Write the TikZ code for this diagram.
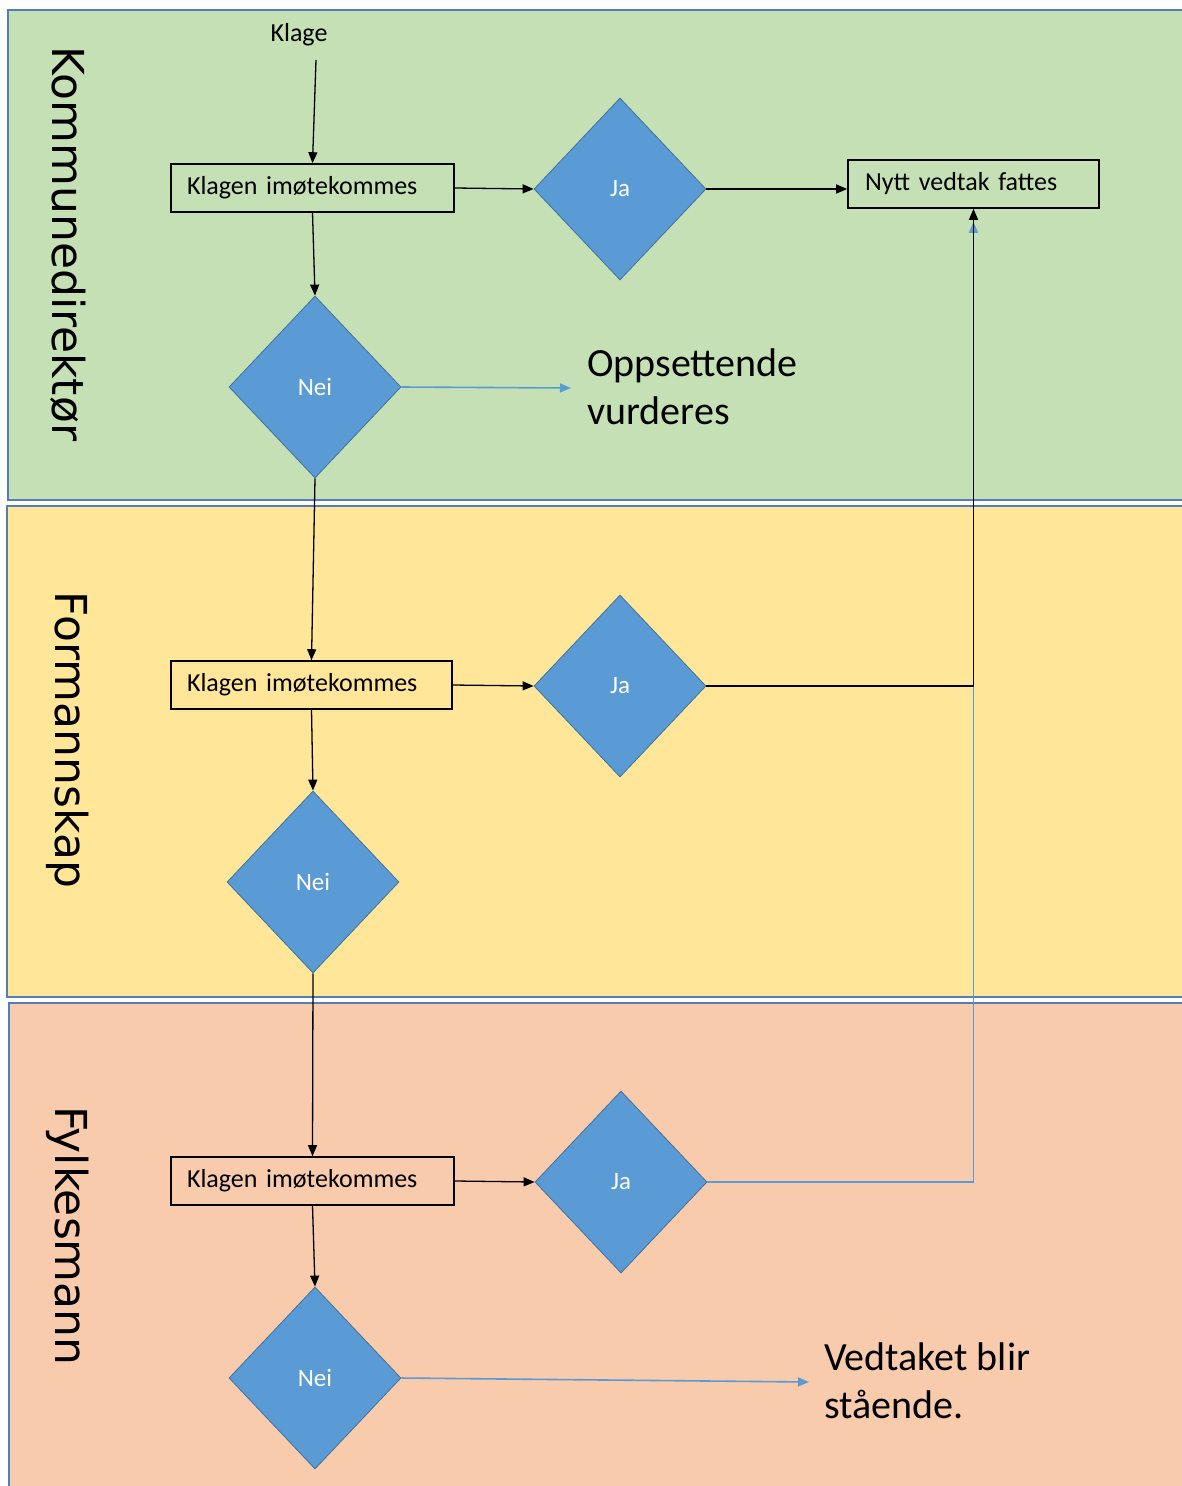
\documentclass[tikz,border=0pt]{standalone}
\usepackage{fontspec}
\setmainfont{Carlito}
\newfontfamily\lanefont{DejaVu Sans}
\usetikzlibrary{shapes.geometric,arrows.meta}
\definecolor{lanegreen}{HTML}{C5E0B4}
\definecolor{laneyellow}{HTML}{FFE699}
\definecolor{lanesalmon}{HTML}{F8CBAD}
\definecolor{laneborder}{RGB}{84,126,186}
\definecolor{decfill}{HTML}{5B9BD5}
\definecolor{decborder}{HTML}{41719C}
\definecolor{bluearrow}{HTML}{5B9BD5}
\begin{document}
\begin{tikzpicture}[x=1pt,y=-1pt,
  lane/.style={draw=laneborder, line width=1.6pt},
  lanelabel/.style={rotate=-90, font=\lanefont\fontsize{44}{50}\selectfont, inner sep=0pt},
  proc/.style={draw=black, line width=1.6pt, minimum height=48pt, inner ysep=0pt,
    font=\fontsize{26}{30}\selectfont, align=left},
  dec/.style={diamond, fill=decfill, draw=decborder, line width=0.8pt,
    minimum width=172pt, minimum height=182pt, inner sep=0pt, text=white,
    font=\fontsize{25}{30}\selectfont},
  arr/.style={draw=black, line width=1.3pt, -{Triangle[length=11pt,width=9pt]}},
  barr/.style={draw=bluearrow, line width=1.6pt, -{Triangle[length=11pt,width=9pt]}},
  bigtext/.style={font=\fontsize{40}{48}\selectfont, align=left, inner sep=0pt, anchor=west}
]
\useasboundingbox (0,0) rectangle (1182,1486);
\clip (0,0) rectangle (1182,1486);
% lanes
\fill[white] (0,0) rectangle (1182,1486);
\filldraw[lane, fill=lanegreen] (8,10) rectangle (1200,500);
\filldraw[lane, fill=laneyellow] (7,506) rectangle (1200,997);
\filldraw[lane, fill=lanesalmon] (9,1003) rectangle (1200,1500);
% lane labels
\node[lanelabel] (l1) at (68,244) {Kommunedirektør};
\node[lanelabel] (l2) at (68,740) {Formannskap};
\node[lanelabel] (l3) at (68,1236) {Fylkesmann};
% nodes
\node[font=\fontsize{26}{30}\selectfont, inner sep=0pt] (klage) at (299,35) {Klage};
\coordinate (kstart) at (316,60);
\node[proc, text width=251pt, inner xsep=16pt] (b1) at (312.5,188) {Klagen imøtekommes};
\node[proc, text width=249pt, inner xsep=16pt] (b2) at (311.5,685) {Klagen imøtekommes};
\node[proc, text width=251pt, inner xsep=16pt] (b3) at (312.5,1181) {Klagen imøtekommes};
\node[proc, text width=217pt, inner xsep=17pt] (nytt) at (973.5,184) {Nytt vedtak fattes};
\node[dec] (j1) at (620,189) {Ja};
\node[dec] (n1) at (315,387) {Nei};
\node[dec] (j2) at (620,686) {Ja};
\node[dec] (n2) at (313,882) {Nei};
\node[dec] (j3) at (621,1182) {Ja};
\node[dec] (n3) at (315,1378) {Nei};
\node[bigtext] (opps) at (587,387) {Oppsettende\\vurderes};
\node[bigtext] (vedt) at (824,1381) {Vedtaket blir\\stående.};
\coordinate (oppsend) at (571,388);
\coordinate (vedtend) at (809,1382);
% connectors
\draw[arr] (kstart) -- (b1.north);
\draw[arr] (b1.east) -- (j1.west);
\draw[arr] (j1.east) -- (j1.east -| nytt.west);
\draw[arr] (b1.south) -- (n1.north);
\draw[barr] (n1.east) -- (oppsend);
\draw[arr] (n1.south) -- (b2.north);
\draw[arr] (b2.east) -- (j2.west);
\draw[barr] (j3.east) -| ([yshift=-13pt]nytt.south);
\draw[arr] (j2.east) -| (nytt.south);
\draw[arr] (b2.south) -- (n2.north);
\draw[arr] (n2.south) -- (b3.north);
\draw[arr] (b3.east) -- (j3.west);
\draw[arr] (b3.south) -- (n3.north);
\draw[barr] (n3.east) -- (vedtend);
\end{tikzpicture}
\end{document}
